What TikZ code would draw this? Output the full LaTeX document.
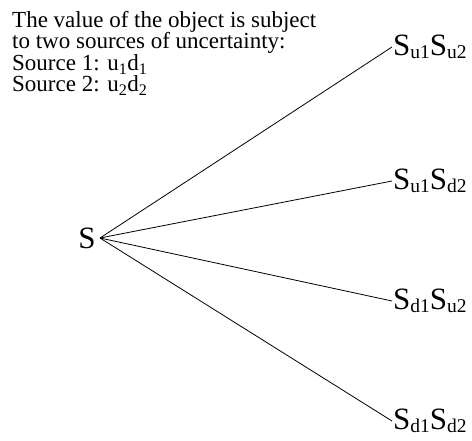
\documentclass[tikz,border=0pt]{standalone}
\usepackage{fontspec}
\setmainfont{Liberation Serif}
\usetikzlibrary{positioning}
\newcommand{\lowsub}[1]{\raisebox{-0.18ex}{\fontsize{19.5}{19.5}\selectfont #1}}

\begin{document}
\begin{tikzpicture}[
  x=1pt, y=-1pt,
  note/.style={anchor=north west, align=left, inner sep=0pt,
               font=\fontsize{23}{21.5}\selectfont},
  leaf/.style={anchor=west, inner sep=1pt, font=\fontsize{31}{31}\selectfont},
  root/.style={inner sep=1pt, font=\fontsize{31}{31}\selectfont},
  branch/.style={line width=0.8pt},
]
\useasboundingbox (0,0) rectangle (472,441);

% Description
\node[note] (info) at (12,11) {The value of the object is subject\\
  to two sources of uncertainty:\\
  Source 1: u\textsubscript{1}d\textsubscript{1}\\
  Source 2: u\textsubscript{2}d\textsubscript{2}};

% Root and leaves
\node[root] (s) at (87,238) {S};
\coordinate (o) at (100,238);
\node[leaf] (uu) at (392,47)  {S\lowsub{u1}S\lowsub{u2}};
\node[leaf] (ud) at (392,181) {S\lowsub{u1}S\lowsub{d2}};
\node[leaf] (du) at (392,301) {S\lowsub{d1}S\lowsub{u2}};
\node[leaf] (dd) at (392,421) {S\lowsub{d1}S\lowsub{d2}};

% Branches
\foreach \t in {uu,ud,du,dd} { \draw[branch] (o) -- (\t.west); }
\end{tikzpicture}
\end{document}
